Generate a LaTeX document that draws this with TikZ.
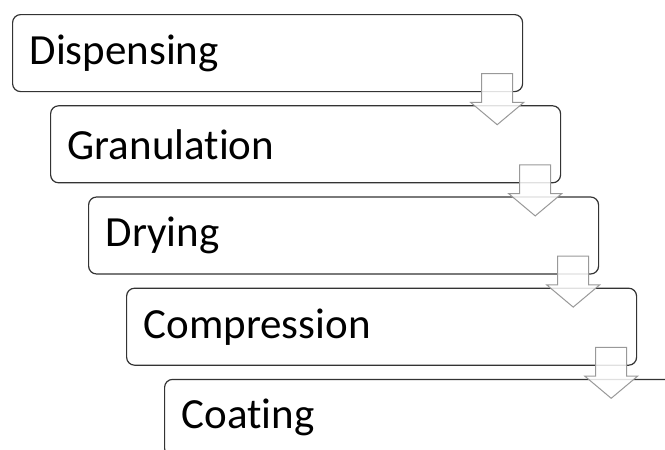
\documentclass[tikz,border=0pt]{standalone}
\usepackage{fontspec}
\setmainfont{Carlito}[Ligatures=NoCommon]
\usetikzlibrary{positioning,calc,shapes.arrows}

\begin{document}
\begin{tikzpicture}[
  x=1pt, y=1pt,
  stage/.style={draw=black!80, line width=1.2pt, rounded corners=8pt, fill=white,
    text width=476pt, inner xsep=17pt, inner ysep=0pt, align=left,
    minimum height=77pt, anchor=north west, font=\fontsize{43}{50}\selectfont},
  flowarrow/.style={single arrow, draw=black!40, line width=1pt, fill=white, fill opacity=0.85,
    rotate=-90, minimum height=51pt, minimum width=52pt, inner xsep=0pt, inner ysep=15pt,
    single arrow head extend=11pt, single arrow tip angle=100, anchor=tail}
]
\clip (0,0) rectangle (665,-450);
\node[stage] (disp) at (12,-14) {Dispensing};
\node[stage, below right=13pt and 38pt of disp.south west] (gran) {Granulation};
\node[stage, below right=13pt and 38pt of gran.south west] (dry) {Drying};
\node[stage, below right=13pt and 38pt of dry.south west] (comp) {Compression};
\node[stage, below right=13pt and 38pt of comp.south west] (coat) {Coating};
% arrows between the stages
\foreach \s in {disp,gran,dry,comp}
  \node[flowarrow] (arr-\s) at ($(\s.south east)+(-26pt,19pt)$) {};
\end{tikzpicture}
\end{document}
